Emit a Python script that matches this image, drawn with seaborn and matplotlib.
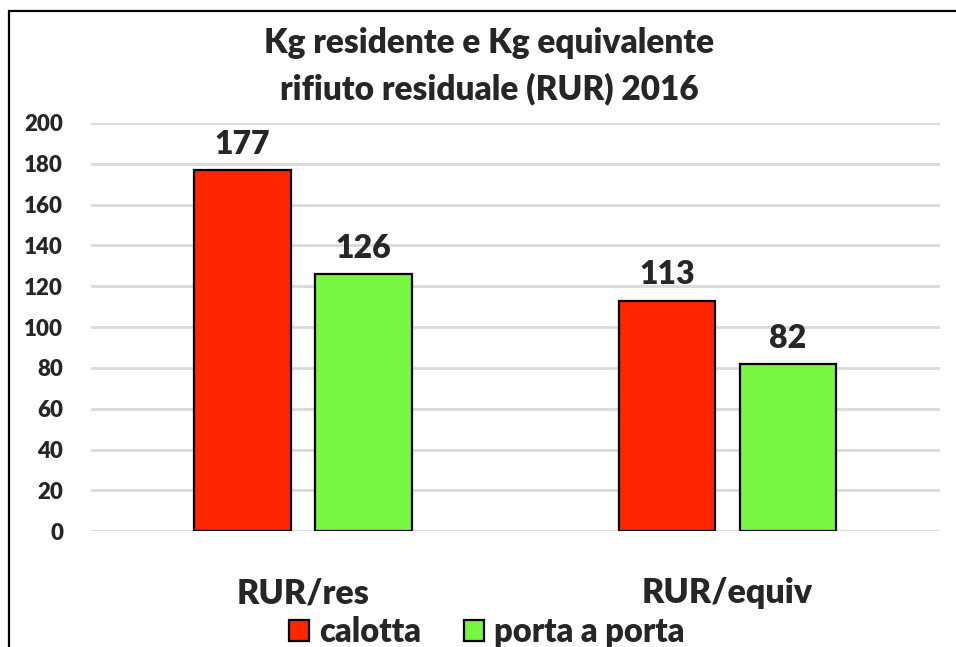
import pandas as pd
import matplotlib
matplotlib.use('Agg')
import matplotlib.pyplot as plt
import seaborn as sns
from matplotlib.patches import Rectangle, Patch

# ── dati ──────────────────────────────────────────────────────────────────────
categorie = ['RUR/res', 'RUR/equiv']
serie = ['calotta', 'porta a porta']
calotta = [177, 113]
porta_a_porta = [126, 82]
y_ticks = [0, 20, 40, 60, 80, 100, 120, 140, 160, 180, 200]

df = pd.DataFrame({
    'categoria': categorie * 2,
    'serie': [serie[0]] * len(categorie) + [serie[1]] * len(categorie),
    'valore': calotta + porta_a_porta,
})

ROSSO = '#FF2600'; VERDE = '#77F740'; GRIGIO = '#D9D9D9'
PESO = 'heavy'
sns.set_style('white')
plt.rcParams['font.family'] = ['Lato', 'DejaVu Sans']
plt.rcParams['font.weight'] = PESO

fig = plt.figure(figsize=(9.56, 6.47), dpi=100)
ax = fig.add_axes([0.095, 0.179, 0.888, 0.631])

sns.barplot(data=df, x='categoria', y='valore', hue='serie',
            palette=[ROSSO, VERDE], width=0.57, gap=0.2,
            edgecolor='black', linewidth=1.6, saturation=1,
            legend=False, ax=ax, zorder=3)

for cont in ax.containers:
    ax.bar_label(cont, fmt='%d', padding=8, fontsize=23, fontweight=PESO)

ax.set_ylim(0, 200)
ax.set_yticks(y_ticks)
ax.set_xlim(-0.5, 1.5)
ax.yaxis.grid(True, color=GRIGIO, lw=2, zorder=0)
ax.set_axisbelow(True)
for sp in ax.spines.values():
    sp.set_visible(False)
ax.tick_params(axis='y', labelsize=16, pad=20, length=0)
ax.tick_params(axis='x', labelsize=24.5, pad=33, length=0)
for lab in ax.get_xticklabels() + ax.get_yticklabels():
    lab.set_fontweight(PESO)
ax.set_xlabel(''); ax.set_ylabel('')

fig.text(0.512, 0.898, 'Kg residente e Kg equivalente\nrifiuto residuale (RUR) 2016',
         ha='center', va='center', fontsize=24, fontweight=PESO, linespacing=1.5)

handles = [Patch(facecolor=ROSSO, edgecolor='black', lw=1.6),
           Patch(facecolor=VERDE, edgecolor='black', lw=1.6)]
fig.legend(handles, serie, loc='center', bbox_to_anchor=(0.509, 0.023),
           ncol=2, frameon=False, handlelength=0.62, handleheight=0.62,
           handletextpad=0.3, columnspacing=1.3, prop={'weight': PESO, 'size': 23.5})

# cornice (tagliata a destra e in basso)
fig.add_artist(Rectangle((9 / 956, -0.1), 1.2, 1 - 11 / 647 + 0.1,
                         transform=fig.transFigure, fill=False,
                         edgecolor='black', lw=1.6))

fig.savefig('out.png', dpi=100, facecolor='white')
